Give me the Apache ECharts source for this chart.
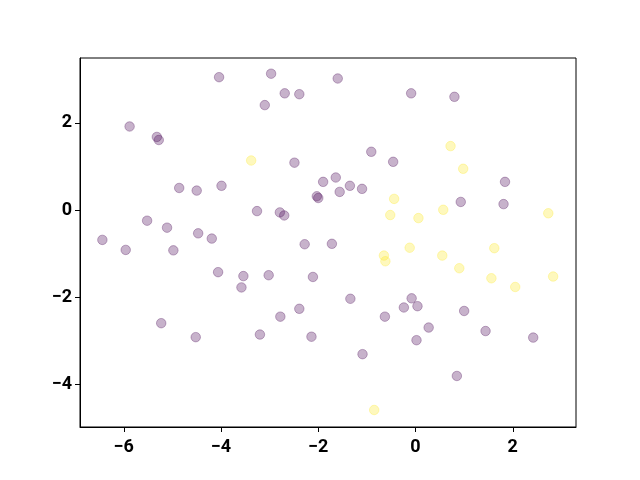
<!DOCTYPE html>
<html><head><meta charset="utf-8">
<script src="https://cdn.jsdelivr.net/npm/echarts@6/dist/echarts.min.js"></script>
<style>html,body{margin:0;padding:0;background:#fff}#c{width:640px;height:480px}</style>
</head><body><div id="c"></div>
<script>
var purplePts = [
[-4.04,3.05],[-5.88,1.92],[-5.32,1.68],[-5.28,1.61],[-4.86,0.51],[-4.50,0.45],[-3.99,0.56],
[-5.52,-0.24],[-5.11,-0.40],[-4.47,-0.53],[-4.19,-0.65],[-6.44,-0.68],[-5.96,-0.91],[-4.98,-0.92],
[-4.06,-1.42],[-3.54,-1.51],[-3.58,-1.77],[-5.23,-2.59],[-4.52,-2.91],[-2.97,3.13],[-1.60,3.02],
[-2.69,2.68],[-2.39,2.66],[-3.10,2.41],[-0.09,2.68],[-2.49,1.09],[-0.91,1.34],[-0.46,1.11],
[-1.64,0.75],[-1.90,0.65],[-1.35,0.56],[-1.56,0.42],[-1.10,0.49],[-2.03,0.32],[-2.00,0.28],
[-3.26,-0.02],[-2.79,-0.05],[-2.70,-0.12],[-2.28,-0.78],[-1.72,-0.77],[0.80,2.60],[1.84,0.65],
[0.93,0.19],[1.81,0.14],[-3.02,-1.49],[-2.11,-1.53],[-1.34,-2.03],[-2.39,-2.26],[-2.78,-2.44],
[-0.63,-2.44],[-0.24,-2.23],[-0.08,-2.02],[-3.20,-2.85],[-2.14,-2.90],[-1.09,-3.30],[0.04,-2.20],
[1.00,-2.31],[0.27,-2.69],[0.02,-2.98],[1.44,-2.77],[2.42,-2.92],[0.85,-3.80]
];
var yellowPts = [
[-3.38,1.14],[-0.44,0.26],[-0.52,-0.11],[0.72,1.47],[0.98,0.95],[0.57,0.01],[0.06,-0.18],
[2.73,-0.07],[-0.65,-1.04],[-0.62,-1.17],[-0.12,-0.86],[0.55,-1.04],[1.62,-0.87],[0.90,-1.33],
[1.56,-1.56],[2.83,-1.52],[2.05,-1.76],[-0.85,-4.58]
];
var xTicks = [-6,-4,-2,0,2];
var yTicks = [-4,-2,0,2];

var fmt = function(v){ return v < 0 ? '\u2212' + Math.abs(v) : String(v); };
var lab = {fontFamily:'Roboto', fontWeight:'bold', fontSize:18, color:'#000'};
var chart = echarts.init(document.getElementById('c'), null, {renderer:'canvas'});
chart.setOption({
  animation:false,
  grid:{left:80, right:64, top:58, bottom:53, show:true, borderColor:'#000', borderWidth:1, containLabel:false},
  xAxis:{type:'value', min:-6.9, max:3.3,
    axisLine:{show:true, onZero:false, lineStyle:{color:'#000', width:1}},
    axisTick:{show:true, length:5, customValues:xTicks, lineStyle:{color:'#000'}},
    axisLabel:Object.assign({margin:11, customValues:xTicks, formatter:fmt}, lab),
    splitLine:{show:false}},
  yAxis:{type:'value', min:-4.97, max:3.49,
    axisLine:{show:true, onZero:false, lineStyle:{color:'#000', width:1}},
    axisTick:{show:true, length:5, customValues:yTicks, lineStyle:{color:'#000'}},
    axisLabel:Object.assign({margin:8, customValues:yTicks, formatter:fmt}, lab),
    splitLine:{show:false}},
  series:[
    {type:'scatter', data:purplePts, symbolSize:9.5,
     itemStyle:{color:'rgba(68,1,84,0.3)', borderColor:'rgba(68,1,84,0.3)', borderWidth:1, opacity:1}},
    {type:'scatter', data:yellowPts, symbolSize:9.5,
     itemStyle:{color:'rgba(253,231,37,0.3)', borderColor:'rgba(253,231,37,0.3)', borderWidth:1, opacity:1}}
  ]
});
</script></body></html>
